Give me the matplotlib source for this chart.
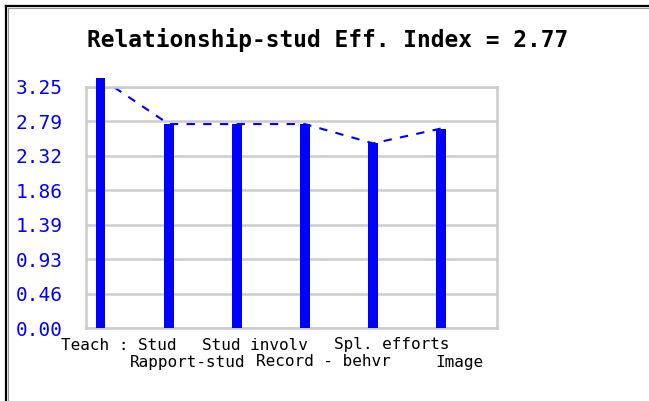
import matplotlib
matplotlib.use('Agg')
import matplotlib.pyplot as plt
from matplotlib.lines import Line2D
import numpy as np

categories = ['Teach : Stud', 'Rapport-stud', 'Stud involv',
              'Record - behvr', 'Spl. efforts', 'Image']
values = [3.37, 2.75, 2.75, 2.75, 2.49, 2.69]
ytick_labels = ['0.00', '0.46', '0.93', '1.39', '1.86', '2.32', '2.79', '3.25']
title = 'Relationship-stud Eff. Index = 2.77'

blue = '#0000ff'
grid = '#cccccc'
mono = 'DejaVu Sans Mono'

fig = plt.figure(figsize=(6.49, 4.01), dpi=100)
ax = fig.add_axes([86 / 649, 1 - 328 / 401, 411 / 649, 241 / 401])

x = np.arange(len(categories))
ax.plot(x, values, color=blue, lw=1.5, dashes=(4, 4), zorder=2)
ax.bar(x, values, width=0.14, color=blue, zorder=3, clip_on=False)

ax.set_xlim(-0.215, 5.82)
ax.set_ylim(0, 3.25)
yt = np.linspace(0, 3.25, len(ytick_labels))
ax.set_yticks(yt)
ax.set_yticklabels(ytick_labels, family=mono, fontsize=14, color=blue)
ax.tick_params(axis='y', length=0, pad=17)
ax.set_xticks([])
ax.grid(axis='y', color=grid, lw=1.8, zorder=0)
for s in ax.spines.values():
    s.set_color(grid)
    s.set_linewidth(1.8)

# staggered category labels under the bars
for i, txt in enumerate(categories):
    dy = -17 if i % 2 == 0 else -34
    ax.annotate(txt, (i, 0), textcoords='offset pixels', xytext=(18.5, dy),
                ha='center', va='center', family=mono, fontsize=11.5,
                annotation_clip=False)

fig.text(328 / 649, 1 - 40 / 401, title, ha='center', va='center',
         family=mono, fontweight='bold', fontsize=16.5)

# outer frame: left and top edges only
fig.add_artist(Line2D([6 / 649, 6 / 649], [0, 1 - 6 / 401], color='black', lw=1.6))
fig.add_artist(Line2D([6 / 649, 1], [1 - 6 / 401, 1 - 6 / 401], color='black', lw=1.6))
fig.add_artist(Line2D([8 / 649, 8 / 649], [0, 1 - 8 / 401], color='#999999', lw=0.8))
fig.add_artist(Line2D([8 / 649, 1], [1 - 8 / 401, 1 - 8 / 401], color='#999999', lw=0.8))

fig.savefig('out.png', dpi=100)
